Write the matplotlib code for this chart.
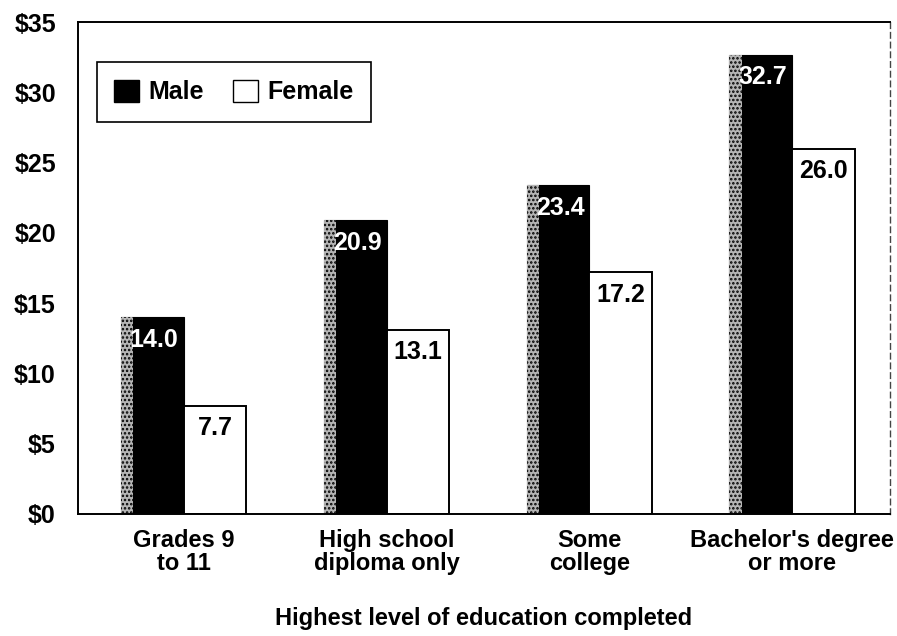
import matplotlib.pyplot as plt
from matplotlib.patches import Patch
import numpy as np

plt.rcParams["font.family"] = ["Liberation Sans", "DejaVu Sans"]
plt.rcParams["hatch.color"] = "black"
plt.rcParams["hatch.linewidth"] = 1.2

categories = ["Grades 9\nto 11", "High school\ndiploma only", "Some\ncollege",
              "Bachelor's degree\nor more"]
male = [14.0, 20.9, 23.4, 32.7]
female = [7.7, 13.1, 17.2, 26.0]
yticks = [0, 5, 10, 15, 20, 25, 30, 35]

BAR_W = 0.31
STRIP_W = 0.06

fig = plt.figure(figsize=(8.97, 6.36), dpi=100)
ax = fig.add_axes([0.087, 0.192, 0.905, 0.773])

x = np.arange(len(categories))
ax.bar(x - BAR_W / 2, male, BAR_W, color="black", edgecolor="black", linewidth=0.8)
# speckled left edge of the male bars
ax.bar(x - BAR_W + STRIP_W / 2, male, STRIP_W, color="#b5b5b5", hatch="....",
       linewidth=0)
ax.bar(x + BAR_W / 2, female, BAR_W, color="white", edgecolor="black", linewidth=1.4)

for xi, v in zip(x, male):
    ax.text(xi - BAR_W / 2 + 0.01, v - 1.6, f"{v:.1f}", color="white", ha="center",
            va="center", fontsize=18, fontweight="bold")
for xi, v in zip(x, female):
    ax.text(xi + BAR_W / 2, v - 1.6, f"{v:.1f}", color="black", ha="center",
            va="center", fontsize=18, fontweight="bold")

ax.set_xlim(-0.52, 3.48)
ax.set_ylim(0, 35)
ax.set_yticks(yticks)
ax.set_yticklabels([f"${t}" for t in yticks], fontsize=18, fontweight="bold")
ax.set_xticks(x)
ax.set_xticklabels(categories, fontsize=17, fontweight="bold", linespacing=1.0)
ax.tick_params(axis="both", length=0)
ax.tick_params(axis="y", pad=16)
ax.tick_params(axis="x", pad=11)
ax.set_xlabel("Highest level of education completed", fontsize=17,
              fontweight="bold", labelpad=23)

for side in ("left", "bottom", "top"):
    ax.spines[side].set_linewidth(1.4)
ax.spines["right"].set_linewidth(1.0)
ax.spines["right"].set_linestyle((0, (4, 3)))
ax.spines["right"].set_color("#444444")

handles = [Patch(facecolor="black", edgecolor="black"),
           Patch(facecolor="white", edgecolor="black")]
leg = ax.legend(handles, ["Male", "Female"], loc="upper left",
                bbox_to_anchor=(0.023, 0.919), borderaxespad=0, ncol=2,
                fancybox=False, framealpha=1, edgecolor="black", borderpad=0.7,
                handlelength=1.0, handleheight=1.0, columnspacing=1.2,
                handletextpad=0.35, prop={"size": 18, "weight": "bold"})
leg.get_frame().set_linewidth(1.2)

fig.savefig("out.png", dpi=100)
